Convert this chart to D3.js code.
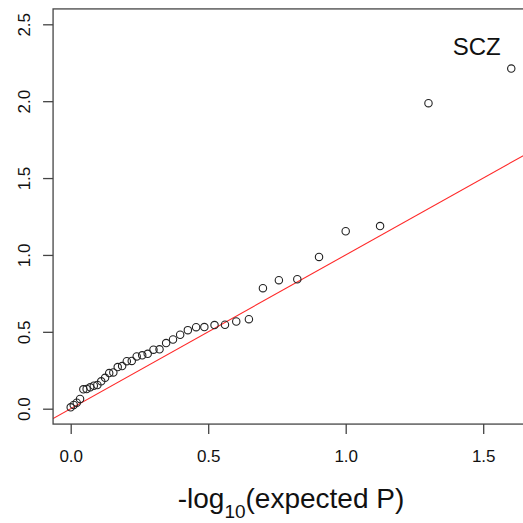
<!DOCTYPE html>
<html>
<head>
<meta charset="utf-8">
<script src="https://cdn.jsdelivr.net/npm/d3@7"></script>
<style>
  html, body { margin: 0; padding: 0; background: #fff; }
  svg { display: block; font-family: "Liberation Sans", Arial, sans-serif; }
</style>
</head>
<body>
<svg id="chart" width="523" height="523"></svg>
<script>
// Expected -log10(P) for each of the 40 ordered points
const expectedP = [1.602, 1.301, 1.125, 1.000, 0.903, 0.824, 0.757, 0.699, 0.648, 0.602,
                   0.561, 0.523, 0.486, 0.456, 0.426, 0.398, 0.372, 0.347, 0.323, 0.301,
                   0.280, 0.260, 0.240, 0.222, 0.204, 0.187, 0.171, 0.155, 0.140, 0.125,
                   0.111, 0.097, 0.084, 0.071, 0.058, 0.046, 0.034, 0.022, 0.011, 0.000];
// Observed -log10(P)
const observedP = [2.212, 1.987, 1.188, 1.154, 0.987, 0.842, 0.836, 0.784, 0.582, 0.567,
                   0.546, 0.544, 0.531, 0.530, 0.511, 0.481, 0.450, 0.427, 0.386, 0.384,
                   0.357, 0.347, 0.340, 0.311, 0.309, 0.277, 0.271, 0.236, 0.232, 0.201,
                   0.178, 0.154, 0.150, 0.139, 0.128, 0.126, 0.063, 0.039, 0.024, 0.009];
const xTicks = [0, 0.5, 1.0, 1.5];
const yTicks = [0, 0.5, 1.0, 1.5, 2.0, 2.5];
const xLimits = [-0.0641, 1.6661];
const yLimits = [-0.1, 2.6];
const ablineIntercept = 0;
const ablineSlope = 1;
const panelLabel = "SCZ";

(function () {
const svg = d3.select("#chart");
const x = d3.scaleLinear().domain([0, 1.5]).range([70.7, 483.2]);
const y = d3.scaleLinear().domain([0, 2.5]).range([408.7, 24.3]);

const pLeft = x(xLimits[0]), pRight = x(xLimits[1]);
const pBottom = y(yLimits[0]), pTop = y(yLimits[1]);

svg.append("defs").append("clipPath").attr("id", "plotclip")
  .append("rect").attr("x", pLeft).attr("y", pTop)
  .attr("width", pRight - pLeft).attr("height", pBottom - pTop);

// reference line y = x
svg.append("line")
  .attr("clip-path", "url(#plotclip)")
  .attr("x1", x(xLimits[0])).attr("y1", y(ablineIntercept + ablineSlope * xLimits[0]))
  .attr("x2", x(xLimits[1])).attr("y2", y(ablineIntercept + ablineSlope * xLimits[1]))
  .attr("stroke", "#ff2a2a").attr("stroke-width", 1.1);

// points
const pts = expectedP.map((e, i) => ({ e, o: observedP[i] }));
svg.append("g").selectAll("circle").data(pts).enter().append("circle")
  .attr("cx", d => x(d.e)).attr("cy", d => y(d.o)).attr("r", 3.7)
  .attr("fill", "none").attr("stroke", "#222").attr("stroke-width", 1.1);

// box
svg.append("rect")
  .attr("x", pLeft).attr("y", pTop)
  .attr("width", pRight - pLeft).attr("height", pBottom - pTop)
  .attr("fill", "none").attr("stroke", "#444").attr("stroke-width", 1.3);

// x axis
const gx = svg.append("g").attr("transform", `translate(0,${pBottom})`)
  .call(d3.axisBottom(x).tickValues(xTicks).tickFormat(d3.format(".1f")).tickSize(10).tickSizeOuter(0));
gx.select(".domain").remove();
gx.selectAll(".tick line").attr("stroke", "#444").attr("stroke-width", 1.3);
gx.selectAll(".tick text").attr("y", 38).attr("dy", 0)
  .attr("font-size", 17).attr("fill", "#111")
  .attr("font-family", "Liberation Sans, Arial, sans-serif");

// y axis
const gy = svg.append("g").attr("transform", `translate(${pLeft},0)`)
  .call(d3.axisLeft(y).tickValues(yTicks).tickFormat(d3.format(".1f")).tickSize(10).tickSizeOuter(0));
gy.select(".domain").remove();
gy.selectAll(".tick line").attr("stroke", "#444").attr("stroke-width", 1.3);
gy.selectAll(".tick text").attr("x", 0).attr("dy", 0)
  .attr("text-anchor", "middle")
  .attr("transform", "translate(-23,0) rotate(-90)")
  .attr("font-size", 17).attr("fill", "#111")
  .attr("font-family", "Liberation Sans, Arial, sans-serif");

// x axis title
const title = svg.append("text")
  .attr("x", (pLeft + pRight) / 2).attr("y", 508)
  .attr("text-anchor", "middle").attr("font-size", 28).attr("fill", "#111");
title.append("tspan").text("-log");
title.append("tspan").attr("font-size", 19).attr("dy", 10).text("10");
title.append("tspan").attr("dy", -10).text("(expected P)");

// panel label
svg.append("text").attr("x", 452.7).attr("y", 55)
  .attr("font-size", 24).attr("fill", "#111").text(panelLabel);
})();
</script>
</body>
</html>
